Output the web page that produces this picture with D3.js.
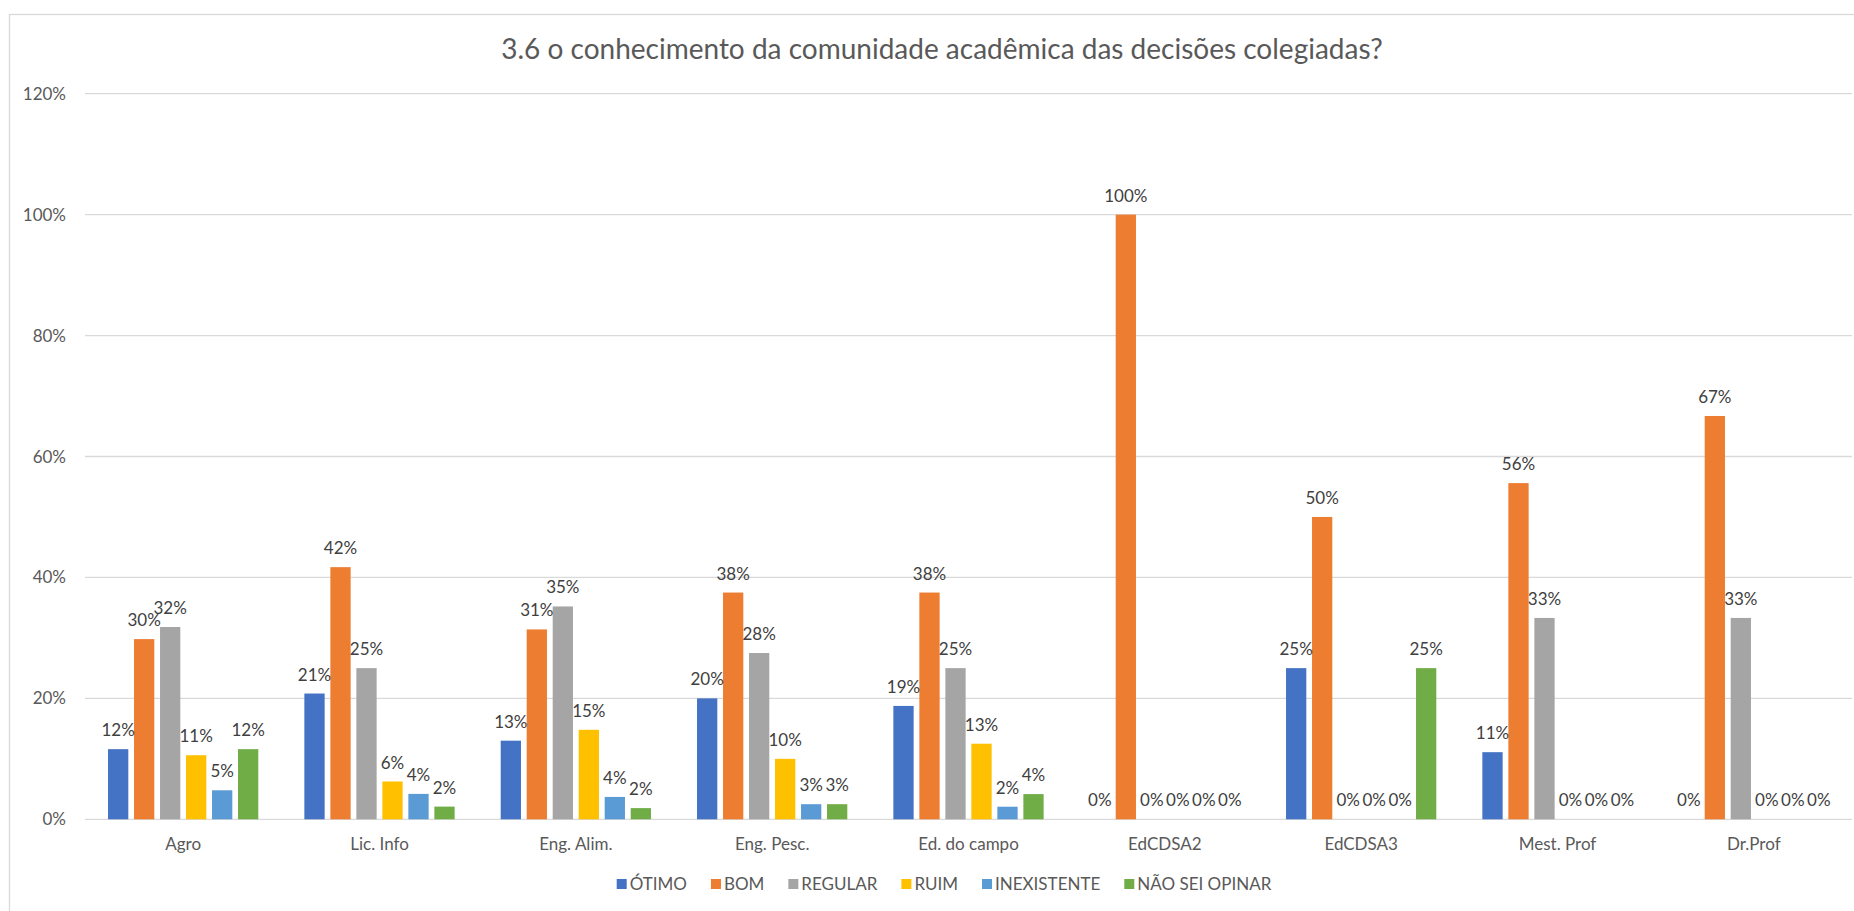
<!DOCTYPE html>
<html>
<head>
<meta charset="utf-8">
<script src="https://cdnjs.cloudflare.com/ajax/libs/d3/7.8.5/d3.min.js"></script>
<style>
  body { margin: 0; background: #fff; }
  svg { display: block; font-family: Lato, "Open Sans", sans-serif; }
</style>
</head>
<body>
<svg></svg>
<script>
var width = 1854;
var height = 911;

// dados (percentuais)
var categories = ["Agro", "Lic. Info", "Eng. Alim.", "Eng. Pesc.", "Ed. do campo", "EdCDSA2", "EdCDSA3", "Mest. Prof", "Dr.Prof"];
var seriesNames = ["ÓTIMO", "BOM", "REGULAR", "RUIM", "INEXISTENTE", "NÃO SEI OPINAR"];
var seriesColors = ["#4472C4", "#ED7D31", "#A5A5A5", "#FFC000", "#5B9BD5", "#70AD47"];
var otimo = [11.6, 20.8, 13.0, 20.0, 18.75, 0, 25, 11.1, 0];
var bom = [29.8, 41.7, 31.4, 37.5, 37.5, 100, 50, 55.6, 66.7];
var regular = [31.8, 25.0, 35.2, 27.5, 25.0, 0, 0, 33.3, 33.3];
var ruim = [10.6, 6.25, 14.8, 10.0, 12.5, 0, 0, 0, 0];
var inexistente = [4.8, 4.2, 3.7, 2.5, 2.08, 0, 0, 0, 0];
var naoSei = [11.6, 2.1, 1.85, 2.5, 4.17, 0, 25, 0, 0];
var yTicks = [0, 20, 40, 60, 80, 100, 120];
var title = "3.6 o conhecimento da comunidade acadêmica das decisões colegiadas?";

var values = [otimo, bom, regular, ruim, inexistente, naoSei];
var rows = [];
categories.forEach(function(c, i) {
  seriesNames.forEach(function(s, j) {
    rows.push({ cat: c, serie: s, color: seriesColors[j], value: values[j][i] });
  });
});

var svg = d3.select("svg").attr("width", width).attr("height", height);

// moldura do gráfico
svg.append("rect")
  .attr("x", 9.5).attr("y", 14.5)
  .attr("width", 1900).attr("height", 950)
  .attr("fill", "#fff")
  .attr("stroke", "#D9D9D9")
  .attr("stroke-width", 1.3);

var x0 = d3.scaleBand().domain(categories).range([85, 1852]);
var x1 = d3.scaleBand().domain(seriesNames).range([-78, 78]).paddingInner(0.22).paddingOuter(0.11);
var y = d3.scaleLinear().domain([0, 120]).range([819.3, 93.7]);

// grade + eixo y
svg.append("g")
  .selectAll("line")
  .data(yTicks)
  .enter().append("line")
  .attr("x1", 85).attr("x2", 1852)
  .attr("y1", function(d) { return y(d); })
  .attr("y2", function(d) { return y(d); })
  .attr("stroke", "#D9D9D9")
  .attr("stroke-width", 1.3);

svg.append("g")
  .selectAll("text")
  .data(yTicks)
  .enter().append("text")
  .attr("x", 66)
  .attr("y", function(d) { return y(d) + 6; })
  .attr("text-anchor", "end")
  .attr("font-size", 17)
  .attr("fill", "#595959")
  .text(function(d) { return d + "%"; });

// barras
var bars = svg.append("g");
bars.selectAll("rect")
  .data(rows)
  .enter().append("rect")
  .attr("x", function(d) { return x0(d.cat) + x0.bandwidth() / 2 + x1(d.serie); })
  .attr("width", x1.bandwidth())
  .attr("y", function(d) { return y(d.value); })
  .attr("height", function(d) { return y(0) - y(d.value); })
  .attr("fill", function(d) { return d.color; });

// rótulos de dados
svg.append("g")
  .selectAll("text")
  .data(rows)
  .enter().append("text")
  .attr("x", function(d) { return x0(d.cat) + x0.bandwidth() / 2 + x1(d.serie) + x1.bandwidth() / 2; })
  .attr("y", function(d) { return y(d.value) - 13; })
  .attr("text-anchor", "middle")
  .attr("font-size", 17)
  .attr("fill", "#404040")
  .text(function(d) { return Math.round(d.value) + "%"; });

// eixo x
svg.append("g")
  .selectAll("text")
  .data(categories)
  .enter().append("text")
  .attr("x", function(d) { return x0(d) + x0.bandwidth() / 2; })
  .attr("y", 850)
  .attr("text-anchor", "middle")
  .attr("font-size", 17)
  .attr("fill", "#595959")
  .text(function(d) { return d; });

// título
svg.append("text")
  .attr("x", 942)
  .attr("y", 59)
  .attr("text-anchor", "middle")
  .attr("font-size", 28)
  .attr("fill", "#595959")
  .text(title);

// legenda
var legend = svg.append("g");
var lx = 0;
seriesNames.forEach(function(s, i) {
  var g = legend.append("g").attr("transform", "translate(" + lx + ",0)");
  g.append("rect").attr("x", 0).attr("y", -5).attr("width", 10).attr("height", 10).attr("fill", seriesColors[i]);
  var t = g.append("text").attr("x", 13).attr("y", 6).attr("font-size", 17).attr("fill", "#595959").text(s);
  lx += 13 + t.node().getComputedTextLength() + 24;
});
lx -= 24;
legend.attr("transform", "translate(" + (944 - lx / 2) + ",884)");
</script>
</body>
</html>
